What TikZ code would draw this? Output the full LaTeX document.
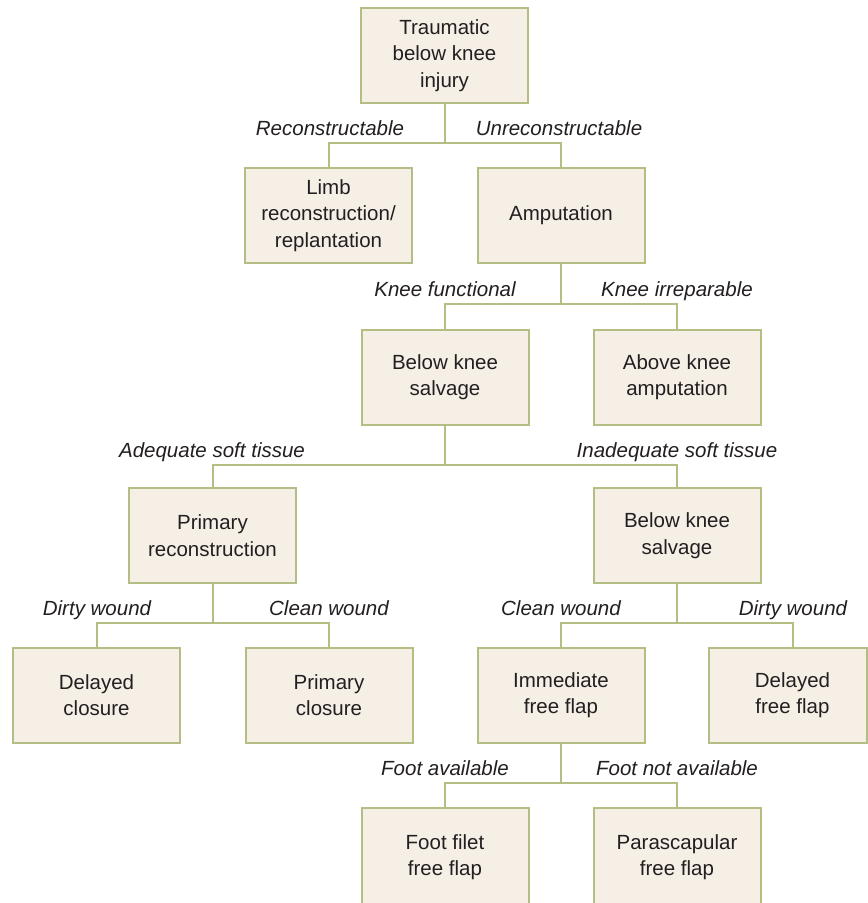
\documentclass[tikz,border=0pt]{standalone}
\usepackage{fontspec}
\setmainfont{Liberation Sans}
\definecolor{boxfill}{HTML}{F5EFE6}
\definecolor{boxline}{HTML}{B3BD84}
\definecolor{txt}{HTML}{231F20}
\begin{document}
\begin{tikzpicture}[x=1pt,y=-1pt,
  box/.style={draw=boxline, fill=boxfill, line width=2pt, minimum width=167pt, minimum height=95pt,
    align=center, text=txt, inner sep=2pt, font=\fontsize{20.5}{26.5}\selectfont},
  lbl/.style={anchor=base, inner sep=0pt, text=txt, font=\fontsize{20.5}{26.5}\selectfont\itshape},
  conn/.style={draw=boxline, line width=2pt}]
\clip (0,0) rectangle (868,903);
\fill[white] (0,0) rectangle (868,903);
% boxes
\node[box] (t) at (444.5,55.5) {Traumatic\\below knee\\injury};
\node[box] (limb) at (328.5,215.5) {Limb\\reconstruction/\\replantation};
\node[box] (amp) at (561,215.5) {Amputation};
\node[box] (bks) at (445,377) {Below knee\\salvage};
\node[box] (aka) at (677,377) {Above knee\\amputation};
\node[box] (prim) at (212.5,535.5) {Primary\\reconstruction};
\node[box] (bks2) at (677,535.5) {Below knee\\salvage};
\node[box] (dc) at (96.5,695) {Delayed\\closure};
\node[box] (pc) at (329,695) {Primary\\closure};
\node[box] (iff) at (561,695) {Immediate\\free flap};
\node[box, minimum width=158pt] (dff) at (788,695) {\hspace*{9pt}Delayed\\\hspace*{9pt}free flap};
\node[box, minimum height=98pt] (ff) at (445,857) {Foot filet\\free flap};
\node[box, minimum height=98pt] (ps) at (677,857) {Parascapular\\free flap};
% junctions
\coordinate (j1) at (444.5,143);
\coordinate (j2) at (561,304);
\coordinate (j3) at (445,465);
\coordinate (j4) at (212.5,623);
\coordinate (j5) at (677,623);
\coordinate (j6) at (561,783);
% connectors
\draw[conn] (t.south) -- (j1);
\draw[conn] (limb.north) |- (j1) -| (amp.north);
\draw[conn] (amp.south) -- (j2);
\draw[conn] (bks.north) |- (j2) -| (aka.north);
\draw[conn] (bks.south) -- (j3);
\draw[conn] (prim.north) |- (j3) -| (bks2.north);
\draw[conn] (prim.south) -- (j4);
\draw[conn] (dc.north) |- (j4) -| (pc.north);
\draw[conn] (bks2.south) -- (j5);
\draw[conn] (iff.north) |- (j5) -| ([xshift=5pt]dff.north);
\draw[conn] (iff.south) -- (j6);
\draw[conn] (ff.north) |- (j6) -| (ps.north);
% labels
\node[lbl] (l1) at (330,135) {Reconstructable};
\node[lbl] (l2) at (559,135) {Unreconstructable};
\node[lbl] (l3) at (445,296) {Knee functional};
\node[lbl] (l4) at (677,296) {Knee irreparable};
\node[lbl] (l5) at (212,457) {Adequate soft tissue};
\node[lbl] (l6) at (677,457) {Inadequate soft tissue};
\node[lbl] (l7) at (97,615) {Dirty wound};
\node[lbl] (l8) at (329,615) {Clean wound};
\node[lbl] (l9) at (561,615) {Clean wound};
\node[lbl] (l10) at (793,615) {Dirty wound};
\node[lbl] (l11) at (445,775) {Foot available};
\node[lbl] (l12) at (677,775) {Foot not available};
\end{tikzpicture}
\end{document}
